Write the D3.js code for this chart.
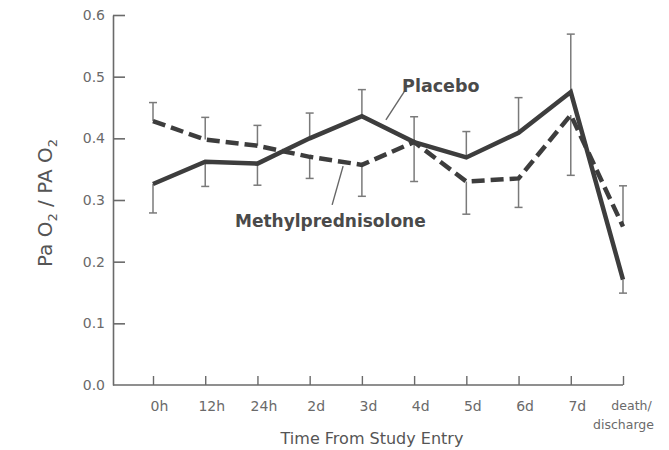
<!DOCTYPE html>
<meta charset="utf-8">
<html lang="en">
<head>
<title>PaO2 / PA O2 over time</title>
<script src="https://d3js.org/d3.v7.min.js"></script>
<style>
  body { margin: 0; background: white; }
  .tick text { font-family: "DejaVu Sans", sans-serif; fill: #6a6a6a; }
  .lbl { font-family: "DejaVu Sans", sans-serif; font-weight: bold; fill: #4a4a4a; }
</style>
</head>
<body>
<svg id="chart" width="669" height="450"></svg>
<script>
// time points along the x axis
var timePoints = ["0h", "12h", "24h", "2d", "3d", "4d", "5d", "6d", "7d", "death/discharge"];
// mean ratio per group
var placebo = [0.326, 0.362, 0.359, 0.400, 0.436, 0.394, 0.369, 0.409, 0.475, 0.171];
var methyl  = [0.428, 0.398, 0.388, 0.370, 0.357, 0.394, 0.330, 0.335, 0.438, 0.257];
// where each error bar ends (drawn one way from the mean)
var placeboBarEnd = [0.279, 0.322, 0.324, 0.441, 0.479, 0.435, 0.411, 0.466, 0.569, 0.149];
var methylBarEnd  = [0.458, 0.434, 0.421, 0.335, 0.306, 0.330, 0.277, 0.288, 0.340, 0.323];
var yTicks = [0, 0.1, 0.2, 0.3, 0.4, 0.5, 0.6];

var svg = d3.select("#chart");
var plotLeft = 113, plotTop = 15, plotBottom = 385;

var x = d3.scalePoint().domain(timePoints).range([153, 623]);
var xi = d3.scaleLinear().domain([0, timePoints.length - 1]).range([153, 623]); // for labels between points
var y = d3.scaleLinear().domain([0, 0.6]).range([plotBottom, plotTop]);

// y axis
var yAxis = svg.append("g")
  .attr("transform", "translate(" + plotLeft + ",0)")
  .call(d3.axisLeft(y).tickValues(yTicks).tickSize(-12).tickSizeOuter(0).tickPadding(8)
    .tickFormat(d3.format(".1f")));
yAxis.selectAll("line, path").attr("stroke", "#6a6a6a").attr("stroke-width", 1.6);
yAxis.selectAll("text").style("font-size", "14px");
yAxis.selectAll(".tick").filter(function(d) { return d === 0; }).select("line").remove();

// x axis
var xAxis = svg.append("g")
  .attr("transform", "translate(0," + plotBottom + ")")
  .call(d3.axisBottom(x).tickSize(-9).tickSizeOuter(0).tickPadding(16));
xAxis.select(".domain").remove();
xAxis.selectAll("line").attr("stroke", "#6a6a6a").attr("stroke-width", 1.4);
xAxis.selectAll("text").style("font-size", "14px").attr("dx", 6);
xAxis.append("line")
  .attr("x1", plotLeft).attr("x2", x(timePoints[timePoints.length - 1]))
  .attr("stroke", "#6a6a6a").attr("stroke-width", 1.6);

// two line label for the last time point
xAxis.selectAll(".tick text").filter(function(d) { return d === "death/discharge"; })
  .each(function() {
    var t = d3.select(this).text(null).style("font-size", "12.5px").attr("dx", 8);
    t.append("tspan").attr("x", 0).text("death/");
    t.append("tspan").attr("x", 0).attr("dy", "1.5em").text("discharge");
  });

// axis titles
svg.append("text")
  .attr("x", 372).attr("y", 444)
  .attr("text-anchor", "middle")
  .style("font-family", "DejaVu Sans, sans-serif").style("font-size", "16px").style("fill", "#555")
  .text("Time From Study Entry");

var yt = svg.append("text")
  .attr("transform", "translate(52,203) rotate(-90)")
  .attr("text-anchor", "middle")
  .style("font-family", "DejaVu Sans, sans-serif").style("font-size", "20px").style("fill", "#555");
yt.append("tspan").text("Pa O");
yt.append("tspan").attr("dy", 5).style("font-size", "13px").text("2");
yt.append("tspan").attr("dy", -5).text(" / PA O");
yt.append("tspan").attr("dy", 5).style("font-size", "13px").text("2");

// error bars
function bars(means, ends) {
  var g = svg.append("g").attr("stroke", "#7a7a7a").attr("stroke-width", 1.5);
  timePoints.forEach(function(t, i) {
    g.append("line").attr("x1", x(t)).attr("x2", x(t)).attr("y1", y(means[i])).attr("y2", y(ends[i]));
    g.append("line").attr("x1", x(t) - 4).attr("x2", x(t) + 4).attr("y1", y(ends[i])).attr("y2", y(ends[i]));
  });
}
bars(placebo, placeboBarEnd);
bars(methyl, methylBarEnd);

// lines
var line = d3.line().x(function(d, i) { return x(timePoints[i]); }).y(function(d) { return y(d); });
svg.append("path").datum(methyl).attr("d", line)
  .attr("fill", "none").attr("stroke", "#3d3d3d").attr("stroke-width", 4.5)
  .attr("stroke-dasharray", "13,6");
svg.append("path").datum(placebo).attr("d", line)
  .attr("fill", "none").attr("stroke", "#3d3d3d").attr("stroke-width", 4.5)
  .attr("stroke-linejoin", "miter");

// labels with leader lines
svg.append("line")
  .attr("x1", xi(4.83)).attr("y1", y(0.478)).attr("x2", xi(4.46)).attr("y2", y(0.43))
  .attr("stroke", "#666").attr("stroke-width", 1.4);
svg.append("text").attr("class", "lbl")
  .attr("x", xi(4.77)).attr("y", y(0.475)).style("font-size", "17.5px").text("Placebo");

svg.append("line")
  .attr("x1", xi(3.64)).attr("y1", y(0.355)).attr("x2", xi(3.43)).attr("y2", y(0.292))
  .attr("stroke", "#666").attr("stroke-width", 1.4);
svg.append("text").attr("class", "lbl")
  .attr("x", xi(1.57)).attr("y", y(0.256)).style("font-size", "17px").text("Methylprednisolone");
</script>
</body>
</html>
